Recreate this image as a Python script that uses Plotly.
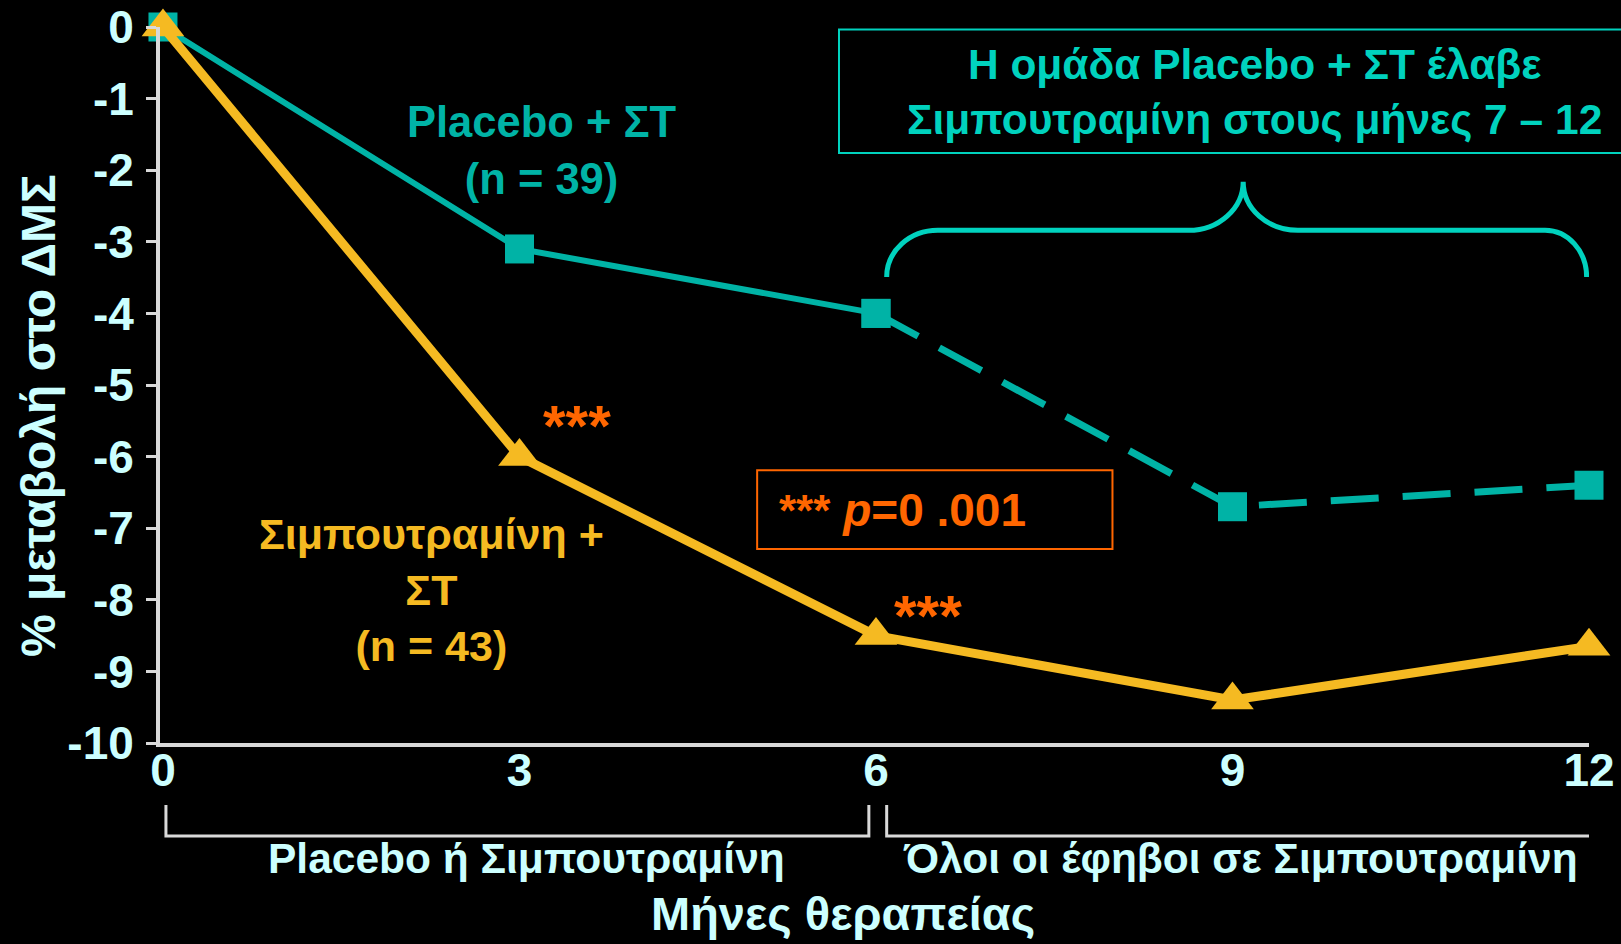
import plotly.graph_objects as go

months = [0, 3, 6, 9, 12]
placebo = [0, -3.1, -4.0, -6.7, -6.4]
sibutramine = [0, -6.0, -8.5, -9.4, -8.65]
y_ticks = [0, -1, -2, -3, -4, -5, -6, -7, -8, -9, -10]
x_ticks = [0, 3, 6, 9, 12]

TEAL = "#00B3A6"
TEAL_BRIGHT = "#00D2BE"
YELLOW = "#F5BA22"
ORANGE = "#FF6600"
AXIS = "#D9D9D9"
LABEL = "#CCFFFF"
FONT = "Arial, Liberation Sans, sans-serif"

fig = go.Figure()

# Placebo: solid months 0-6, dashed months 6-12
fig.add_trace(go.Scatter(
    x=months[:3], y=placebo[:3], mode="lines+markers",
    line=dict(color=TEAL, width=6),
    marker=dict(symbol="square", size=29, color=TEAL),
    cliponaxis=False, showlegend=False))
fig.add_trace(go.Scatter(
    x=months[2:], y=placebo[2:], mode="lines+markers",
    line=dict(color=TEAL, width=7, dash="48px,24px"),
    marker=dict(symbol="square", size=29, color=TEAL),
    cliponaxis=False, showlegend=False))
fig.add_trace(go.Scatter(
    x=months, y=sibutramine, mode="lines+markers",
    line=dict(color=YELLOW, width=9),
    marker=dict(symbol="triangle-up", size=37, color=YELLOW),
    cliponaxis=False, showlegend=False))

L, R, T, B = 160, 32, 27, 201
W, H = 1621, 944
plot_h = H - T - B
plot_w = W - L - R

def py(pixel):
    return (H - B - pixel) / plot_h

def px(pixel):
    return (pixel - L) / plot_w

shapes = []
# curly brace over months 6-12
brace = ("M 6.09,-3.49 C 6.09,-3.13 6.283,-2.84 6.52,-2.84 "
         "L 8.63,-2.84 C 8.884,-2.84 9.09,-2.535 9.09,-2.16 "
         "C 9.09,-2.535 9.296,-2.84 9.55,-2.84 "
         "L 11.63,-2.84 C 11.823,-2.84 11.98,-3.13 11.98,-3.49")
shapes.append(dict(type="path", path=brace, xref="x", yref="y",
                   line=dict(color=TEAL_BRIGHT, width=5)))
# p-value box
shapes.append(dict(type="rect", xref="x", yref="y", x0=5.0, x1=7.99,
                   y0=-6.19, y1=-7.29, line=dict(color=ORANGE, width=2)))
# top right box
shapes.append(dict(type="rect", xref="paper", yref="paper",
                   x0=px(839), x1=1.04, y0=py(153), y1=py(29.5),
                   line=dict(color=TEAL_BRIGHT, width=2)))
# bottom brackets
yt, yb = py(805), py(836)
shapes.append(dict(type="path", xref="x", yref="paper",
                   path=f"M 0.025,{yt} L 0.025,{yb} L 5.94,{yb} L 5.94,{yt}",
                   line=dict(color=AXIS, width=3)))
shapes.append(dict(type="path", xref="x", yref="paper",
                   path=f"M 6.09,{yt} L 6.09,{yb} L 12.02,{yb} L 12.02,{yt}",
                   line=dict(color=AXIS, width=3)))

ann = []
def A(text, x, y, color, size, xref="x", yref="y", **kw):
    d = dict(text=text, x=x, y=y, xref=xref, yref=yref, showarrow=False,
             xanchor="center", yanchor="middle",
             font=dict(family=FONT, size=size, color=color, weight="bold"))
    d.update(kw)
    ann.append(d)

A("Placebo + ΣΤ<br>(n = 39)", 3.19, -1.72, TEAL, 43.5)
A("Σιμπουτραμίνη +<br>ΣΤ<br>(n = 43)", 2.26, -7.87, YELLOW, 43)
A("***", 3.48, -5.56, ORANGE, 58)
A("***", 6.44, -8.22, ORANGE, 58)
A("<span style='font-size:44px'>***</span> <i>p</i>=0 .001", 5.17, -6.75,
  ORANGE, 46, xanchor="left")
A("Η ομάδα Placebo + ΣΤ έλαβε<br>Σιμπουτραμίνη στους μήνες 7 – 12",
  px(1254), py(92), TEAL_BRIGHT, 42.5, xref="paper", yref="paper")
A("Placebo ή Σιμπουτραμίνη", 3.06, py(858), LABEL, 42.5, yref="paper")
A("Όλοι οι έφηβοι σε Σιμπουτραμίνη", 9.07, py(858), LABEL, 42.5, yref="paper")
A("Μήνες θεραπείας", px(843), py(914), LABEL, 47,
  xref="paper", yref="paper")
A("% μεταβολή στο ΔΜΣ", px(39), py(416), LABEL, 48,
  xref="paper", yref="paper", textangle=-90)

fig.update_layout(
    width=W, height=H,
    margin=dict(l=L, r=R, t=T, b=B, pad=0, autoexpand=False),
    paper_bgcolor="black", plot_bgcolor="black",
    shapes=shapes, annotations=ann,
    xaxis=dict(range=[-0.025, 12], tickvals=x_ticks,
               ticktext=[str(v) for v in x_ticks], automargin=False,
               showgrid=False, zeroline=False, showline=True,
               linecolor=AXIS, linewidth=4, ticks="",
               ticklabelstandoff=-16,
               tickfont=dict(family=FONT, size=46, color=LABEL, weight="bold")),
    yaxis=dict(range=[-10, 0], tickvals=y_ticks,
               ticktext=[str(v) for v in y_ticks], automargin=False,
               showgrid=False, zeroline=False, showline=True,
               linecolor=AXIS, linewidth=4, ticks="outside", ticklen=10,
               tickwidth=3, tickcolor=AXIS, ticklabelstandoff=3,
               tickfont=dict(family=FONT, size=46, color=LABEL, weight="bold")),
)

fig.write_html("out.html")
